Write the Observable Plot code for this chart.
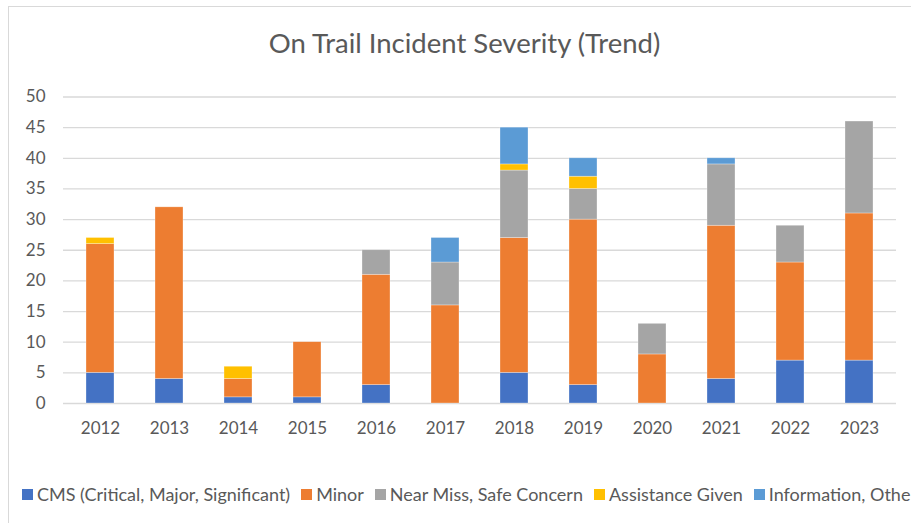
<!DOCTYPE html>
<html>
<head>
<meta charset="utf-8">
<script src="https://cdn.jsdelivr.net/npm/d3@7"></script>
<script src="https://cdn.jsdelivr.net/npm/@observablehq/plot@0.6"></script>
<style>
  html, body { margin: 0; padding: 0; background: #fff; width: 911px; height: 523px; overflow: hidden; font-family: Lato, "Open Sans", sans-serif; }
  #frame { position: absolute; left: 8px; top: 6px; width: 1000px; height: 600px; border-left: 1px solid #d9d9d9; border-top: 1px solid #d9d9d9; }
  #title { position: absolute; left: 0; top: 0; width: 929px; height: 70px; text-align: center; line-height: 86px; font-size: 27.5px; color: #595959; }
  #chart { position: absolute; left: 0; top: 70px; }
  #legend { position: absolute; left: 22px; top: 483px; display: flex; white-space: nowrap; font-size: 18px; color: #595959; }
  .item { display: flex; align-items: center; margin-right: 11px; }
  .sw { width: 11px; height: 11px; margin-right: 4px; }
</style>
</head>
<body>
<div id="frame"></div>
<div id="title">On Trail Incident Severity (Trend)</div>
<div id="chart"></div>
<div id="legend"></div>
<script>
const years = ["2012","2013","2014","2015","2016","2017","2018","2019","2020","2021","2022","2023"];
const seriesNames = ["CMS (Critical, Major, Significant)", "Minor", "Near Miss, Safe Concern", "Assistance Given", "Information, Other"];
const cms        = [5, 4, 1, 1, 3, 0, 5, 3, 0, 4, 7, 7];
const minor      = [21, 28, 3, 9, 18, 16, 22, 27, 8, 25, 16, 24];
const nearMiss   = [0, 0, 0, 0, 4, 7, 11, 5, 5, 10, 6, 15];
const assistance = [1, 0, 2, 0, 0, 0, 1, 2, 0, 0, 0, 0];
const information= [0, 0, 0, 0, 0, 4, 6, 3, 0, 1, 0, 0];
const yTicks = [0, 5, 10, 15, 20, 25, 30, 35, 40, 45, 50];
const colors = ["#4472C4", "#ED7D31", "#A5A5A5", "#FFC000", "#5B9BD5"];

const seriesValues = [cms, minor, nearMiss, assistance, information];
const data = [];
seriesNames.forEach((s, i) => {
  years.forEach((y, j) => data.push({year: y, series: s, value: seriesValues[i][j]}));
});

const plot = Plot.plot({
  width: 911,
  height: 380,
  marginLeft: 63,
  marginRight: 15,
  marginTop: 26.5,
  marginBottom: 47,
  style: {fontFamily: "Lato, 'Open Sans', sans-serif", fontSize: "17px", color: "#595959", background: "transparent"},
  x: {domain: years, paddingInner: 0.6, paddingOuter: 0.3, label: null, tickSize: 0, tickPadding: 18},
  y: {domain: [0, 50], ticks: yTicks, label: null, tickSize: 0, tickPadding: 18},
  color: {domain: seriesNames, range: colors},
  marks: [
    Plot.gridY(yTicks, {stroke: "#d9d9d9", strokeOpacity: 1, strokeWidth: 1.3}),
    Plot.barY(data, Plot.stackY({order: seriesNames}, {x: "year", y: "value", z: "series", fill: "series", stroke: "#ffffff", strokeWidth: 0.6, strokeOpacity: 0.5})),
    Plot.axisX({tickSize: 0, tickPadding: 18, fill: "#595959", fontSize: 17}),
    Plot.axisY(yTicks, {tickSize: 0, tickPadding: 18, fill: "#595959", fontSize: 17})
  ]
});
document.getElementById("chart").appendChild(plot);

const legend = document.getElementById("legend");
seriesNames.forEach((s, i) => {
  const item = document.createElement("div");
  item.className = "item";
  const sw = document.createElement("span");
  sw.className = "sw";
  sw.style.background = colors[i];
  const t = document.createElement("span");
  t.textContent = s;
  item.appendChild(sw);
  item.appendChild(t);
  legend.appendChild(item);
});
</script>
</body>
</html>
